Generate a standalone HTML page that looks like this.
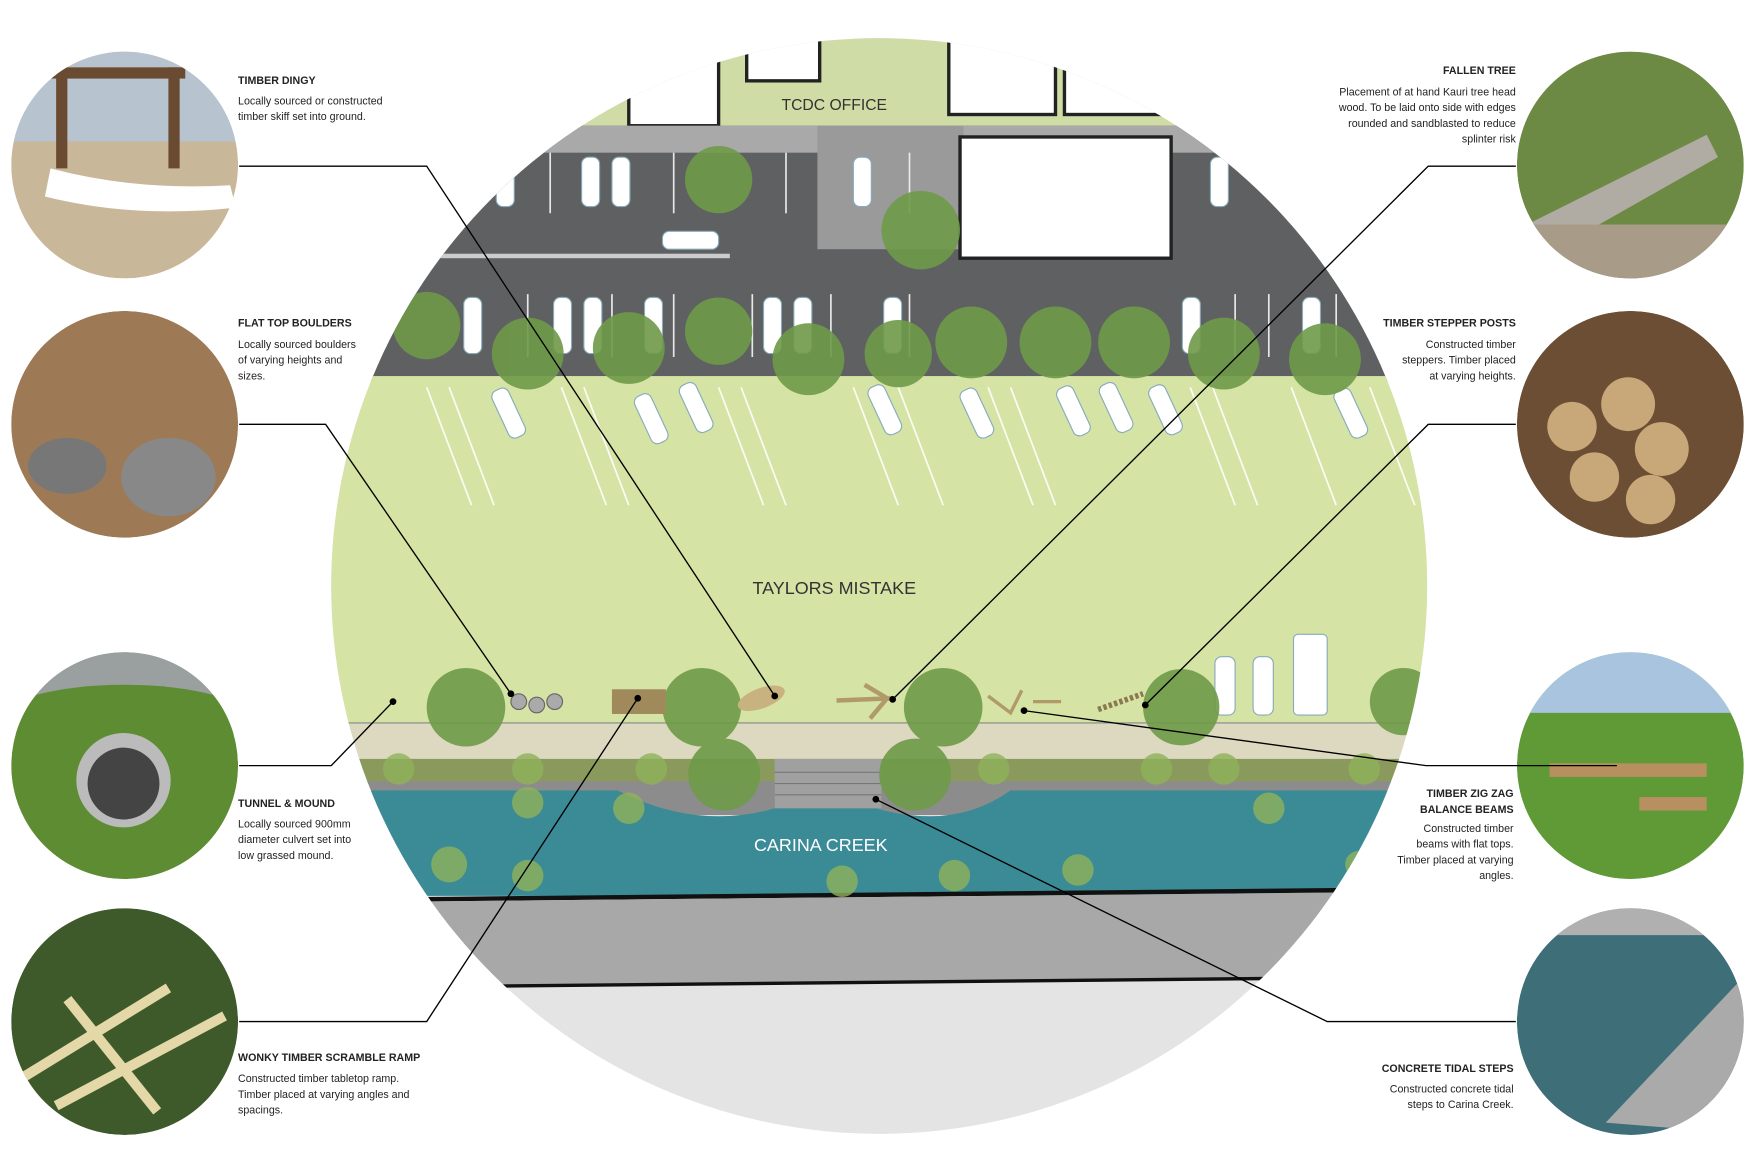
<!DOCTYPE html>
<html><head><meta charset="utf-8"><style>
html,body{margin:0;padding:0;background:#fff;}
svg{display:block;}
text{font-family:"Liberation Sans",sans-serif;}
</style></head><body>
<svg width="1755" height="1172" viewBox="0 0 1563 1044" preserveAspectRatio="none" xmlns="http://www.w3.org/2000/svg">
<defs>
<clipPath id="big"><circle cx="783" cy="522" r="488"/></clipPath>
<clipPath id="c1"><circle cx="111" cy="147" r="101"/></clipPath>
<clipPath id="c2"><circle cx="111" cy="378" r="101"/></clipPath>
<clipPath id="c3"><circle cx="111" cy="682" r="101"/></clipPath>
<clipPath id="c4"><circle cx="111" cy="910" r="101"/></clipPath>
<clipPath id="r1"><circle cx="1452" cy="147" r="101"/></clipPath>
<clipPath id="r2"><circle cx="1452" cy="378" r="101"/></clipPath>
<clipPath id="r3"><circle cx="1452" cy="682" r="101"/></clipPath>
<clipPath id="r4"><circle cx="1452" cy="910" r="101"/></clipPath>
</defs>
<rect width="1563" height="1044" fill="#fff"/>
<g clip-path="url(#big)">
  <rect x="280" y="20" width="1010" height="1010" fill="#e4e4e4"/>
  <rect x="280" y="20" width="1010" height="95" fill="#cfdca5"/>
  <rect x="560" y="30" width="80" height="82" fill="#fff" stroke="#222" stroke-width="3"/>
  <rect x="665" y="30" width="65" height="42" fill="#fff" stroke="#222" stroke-width="3"/>
  <rect x="845" y="30" width="95" height="72" fill="#fff" stroke="#222" stroke-width="3"/>
  <rect x="948" y="30" width="160" height="72" fill="#fff" stroke="#222" stroke-width="3"/>
  <text x="743" y="98" font-size="14" text-anchor="middle" fill="#333">TCDC OFFICE</text>
  <rect x="280" y="112" width="1010" height="228" fill="#5f6062"/>
  <rect x="280" y="112" width="1010" height="24" fill="#a9a9a9"/>
  <rect x="728" y="112" width="130" height="110" fill="#9a9a9a"/>
  <rect x="855" y="122" width="188" height="108" fill="#fff" stroke="#222" stroke-width="3"/>
  <rect x="380" y="226" width="270" height="4" fill="#ccc"/>
  <g stroke="#e8e8e8" stroke-width="1.5">
    <line x1="490" y1="136" x2="490" y2="190"/><line x1="600" y1="136" x2="600" y2="190"/><line x1="700" y1="136" x2="700" y2="190"/><line x1="810" y1="136" x2="810" y2="190"/>
    <line x1="470" y1="262" x2="470" y2="318"/><line x1="545" y1="262" x2="545" y2="318"/><line x1="600" y1="262" x2="600" y2="318"/><line x1="670" y1="262" x2="670" y2="318"/><line x1="740" y1="262" x2="740" y2="318"/><line x1="810" y1="262" x2="810" y2="318"/><line x1="1100" y1="262" x2="1100" y2="318"/><line x1="1130" y1="262" x2="1130" y2="318"/><line x1="1190" y1="262" x2="1190" y2="318"/>
  </g>
  <g fill="#fff" stroke="#8ab" stroke-width="1">
    <rect x="442" y="140" width="16" height="44" rx="6"/><rect x="518" y="140" width="16" height="44" rx="6"/><rect x="545" y="140" width="16" height="44" rx="6"/><rect x="760" y="140" width="16" height="44" rx="6"/><rect x="1078" y="140" width="16" height="44" rx="6"/>
    <rect x="590" y="206" width="50" height="16" rx="6"/>
    <rect x="413" y="265" width="16" height="50" rx="6"/><rect x="493" y="265" width="16" height="50" rx="6"/><rect x="520" y="265" width="16" height="50" rx="6"/><rect x="574" y="265" width="16" height="50" rx="6"/><rect x="680" y="265" width="16" height="50" rx="6"/><rect x="707" y="265" width="16" height="50" rx="6"/><rect x="787" y="265" width="16" height="50" rx="6"/><rect x="1053" y="265" width="16" height="50" rx="6"/><rect x="1160" y="265" width="16" height="50" rx="6"/>
  </g>
  <rect x="280" y="335" width="1010" height="310" fill="#d5e3a5"/>
  <g stroke="#fff" stroke-width="1.5" opacity="0.9">
    <line x1="380" y1="345" x2="420" y2="450"/><line x1="400" y1="345" x2="440" y2="450"/><line x1="500" y1="345" x2="540" y2="450"/><line x1="520" y1="345" x2="560" y2="450"/><line x1="640" y1="345" x2="680" y2="450"/><line x1="660" y1="345" x2="700" y2="450"/><line x1="760" y1="345" x2="800" y2="450"/><line x1="800" y1="345" x2="840" y2="450"/><line x1="880" y1="345" x2="920" y2="450"/><line x1="900" y1="345" x2="940" y2="450"/><line x1="1060" y1="345" x2="1100" y2="450"/><line x1="1080" y1="345" x2="1120" y2="450"/><line x1="1150" y1="345" x2="1190" y2="450"/><line x1="1220" y1="345" x2="1260" y2="450"/>
  </g>
  <g fill="#fff" stroke="#8ab" stroke-width="1">
    <rect x="445" y="345" width="16" height="46" rx="6" transform="rotate(-25 453 368)"/><rect x="572" y="350" width="16" height="46" rx="6" transform="rotate(-25 580 373)"/><rect x="612" y="340" width="16" height="46" rx="6" transform="rotate(-25 620 363)"/><rect x="780" y="342" width="16" height="46" rx="6" transform="rotate(-25 788 365)"/><rect x="862" y="345" width="16" height="46" rx="6" transform="rotate(-25 870 368)"/><rect x="948" y="343" width="16" height="46" rx="6" transform="rotate(-25 956 366)"/><rect x="986" y="340" width="16" height="46" rx="6" transform="rotate(-25 994 363)"/><rect x="1030" y="342" width="16" height="46" rx="6" transform="rotate(-25 1038 365)"/><rect x="1195" y="345" width="16" height="46" rx="6" transform="rotate(-25 1203 368)"/>
    <rect x="1082" y="585" width="18" height="52" rx="6"/><rect x="1116" y="585" width="18" height="52" rx="6"/><rect x="1152" y="565" width="30" height="72" rx="4"/>
  </g>
  <text x="743" y="529" font-size="16" text-anchor="middle" fill="#333">TAYLORS MISTAKE</text>
  <rect x="280" y="644" width="1010" height="32" fill="#dcd9c0"/>
  <line x1="280" y1="644" x2="1290" y2="644" stroke="#888" stroke-width="1"/>
  <rect x="280" y="676" width="1010" height="22" fill="#8a9a5c"/>
  <rect x="280" y="696" width="1010" height="30" fill="#8c8c8c"/>
  <path d="M280 704 L550 704 Q620 740 690 720 L780 720 Q850 740 900 704 L1290 704 L1290 798 L280 798 Z" fill="#3b8b97"/>
  <rect x="690" y="676" width="95" height="44" fill="#a0a0a0"/>
  <g stroke="#777" stroke-width="1"><line x1="690" y1="688" x2="785" y2="688"/><line x1="690" y1="698" x2="785" y2="698"/><line x1="690" y1="708" x2="785" y2="708"/></g>
  <text x="731" y="758" font-size="16" text-anchor="middle" fill="#fff">CARINA CREEK</text>
  <path d="M280 802 L1290 792" stroke="#111" stroke-width="4"/>
  <path d="M280 804 L1290 794 L1290 872 L280 880 Z" fill="#a8a8a8"/>
  <path d="M280 880 L1290 870" stroke="#111" stroke-width="3"/>
  <g fill="#6e9a48" opacity="0.9">
    <circle cx="640" cy="160" r="30"/><circle cx="820" cy="205" r="35"/>
    <circle cx="380" cy="290" r="30"/><circle cx="470" cy="315" r="32"/><circle cx="560" cy="310" r="32"/><circle cx="640" cy="295" r="30"/><circle cx="720" cy="320" r="32"/><circle cx="800" cy="315" r="30"/><circle cx="865" cy="305" r="32"/><circle cx="940" cy="305" r="32"/><circle cx="1010" cy="305" r="32"/><circle cx="1090" cy="315" r="32"/><circle cx="1180" cy="320" r="32"/>
    <circle cx="415" cy="630" r="35"/><circle cx="625" cy="630" r="35"/><circle cx="645" cy="690" r="32"/><circle cx="840" cy="630" r="35"/><circle cx="815" cy="690" r="32"/><circle cx="1052" cy="630" r="34"/><circle cx="1250" cy="625" r="30"/>
  </g>
  <g fill="#8fb25a" opacity="0.8">
    <circle cx="355" cy="685" r="14"/><circle cx="470" cy="685" r="14"/><circle cx="580" cy="685" r="14"/><circle cx="885" cy="685" r="14"/><circle cx="1030" cy="685" r="14"/><circle cx="1090" cy="685" r="14"/><circle cx="1215" cy="685" r="14"/>
    <circle cx="470" cy="715" r="14"/><circle cx="560" cy="720" r="14"/><circle cx="1130" cy="720" r="14"/><circle cx="400" cy="770" r="16"/><circle cx="470" cy="780" r="14"/><circle cx="750" cy="785" r="14"/><circle cx="850" cy="780" r="14"/><circle cx="960" cy="775" r="14"/><circle cx="1210" cy="770" r="12"/>
  </g>
  <rect x="545" y="614" width="48" height="22" fill="#a08a5c"/>
  <ellipse cx="678" cy="622" rx="22" ry="9" fill="#c8b280" transform="rotate(-20 678 622)"/>
  <g fill="#aaa" stroke="#666"><circle cx="462" cy="625" r="7"/><circle cx="478" cy="628" r="7"/><circle cx="494" cy="625" r="7"/></g>
  <path d="M745 624 L795 622 M770 610 L790 622 L775 640" stroke="#b09a6a" stroke-width="4" fill="none"/>
  <path d="M880 620 L900 635 L910 615 M920 625 L945 625" stroke="#b09a6a" stroke-width="3" fill="none"/>
  <path d="M978 632 L1018 618" stroke="#8a7850" stroke-width="5" stroke-dasharray="3 2"/>
</g>
<g clip-path="url(#c1)">
  <circle cx="111" cy="147" r="101" fill="#c9b79a"/>
  <rect x="10" y="46" width="202" height="80" fill="#b7c4cf"/>
  <rect x="50" y="60" width="10" height="90" fill="#6a4a30"/><rect x="150" y="60" width="10" height="90" fill="#6a4a30"/><rect x="45" y="60" width="120" height="10" fill="#6a4a30"/>
  <path d="M40 175 Q120 195 210 185 L205 165 Q120 170 45 150 Z" fill="#fff"/>
</g>
<g clip-path="url(#c2)">
  <circle cx="111" cy="378" r="101" fill="#9d7a55"/>
  <ellipse cx="60" cy="415" rx="35" ry="25" fill="#777"/><ellipse cx="150" cy="425" rx="42" ry="35" fill="#888"/>
</g>
<g clip-path="url(#c3)">
  <circle cx="111" cy="682" r="101" fill="#5e8c33"/>
  <rect x="10" y="580" width="202" height="40" fill="#9aa0a0"/>
  <ellipse cx="111" cy="640" rx="110" ry="30" fill="#5e8c33"/>
  <circle cx="110" cy="695" r="42" fill="#bbb"/><circle cx="110" cy="698" r="32" fill="#444"/>
</g>
<g clip-path="url(#c4)">
  <circle cx="111" cy="910" r="101" fill="#3e5a2a"/>
  <g stroke="#e4d8a8" stroke-width="9"><line x1="20" y1="960" x2="150" y2="880"/><line x1="50" y1="985" x2="200" y2="905"/><line x1="60" y1="890" x2="140" y2="990"/></g>
</g>
<g clip-path="url(#r1)">
  <circle cx="1452" cy="147" r="101" fill="#6c8a44"/>
  <path d="M1360 200 L1520 120 L1530 140 L1380 225 Z" fill="#b0aca4"/>
  <path d="M1350 200 L1553 200 L1553 250 L1350 250 Z" fill="#a89c88"/>
</g>
<g clip-path="url(#r2)">
  <circle cx="1452" cy="378" r="101" fill="#6b4e34"/>
  <g fill="#c8a878"><circle cx="1400" cy="380" r="22"/><circle cx="1450" cy="360" r="24"/><circle cx="1480" cy="400" r="24"/><circle cx="1420" cy="425" r="22"/><circle cx="1470" cy="445" r="22"/></g>
</g>
<g clip-path="url(#r3)">
  <circle cx="1452" cy="682" r="101" fill="#5f9a36"/>
  <rect x="1351" y="580" width="202" height="55" fill="#a8c4de"/>
  <rect x="1380" y="680" width="140" height="12" fill="#b89060"/>
  <rect x="1460" y="710" width="60" height="12" fill="#b89060"/>
</g>
<g clip-path="url(#r4)">
  <circle cx="1452" cy="910" r="101" fill="#3e6f78"/>
  <path d="M1430 1000 L1553 870 L1553 1010 Z" fill="#aaa"/>
  <rect x="1351" y="808" width="202" height="25" fill="#b0b0b0"/>
</g>
<g stroke="#000" stroke-width="1.2" fill="none">
  <polyline points="213,148 380,148 690,620"/>
  <polyline points="213,378 290,378 455,618"/>
  <polyline points="213,682 295,682 350,625"/>
  <polyline points="213,910 380,910 568,622"/>
  <polyline points="1350,148 1272,148 795,623"/>
  <polyline points="1350,378 1272,378 1020,628"/>
  <polyline points="1440,682 1270,682 912,633"/>
  <polyline points="1350,910 1182,910 780,712"/>
</g>
<g fill="#000"><circle cx="690" cy="620" r="3"/><circle cx="455" cy="618" r="3"/><circle cx="350" cy="625" r="3"/><circle cx="568" cy="622" r="3"/><circle cx="795" cy="623" r="3"/><circle cx="1020" cy="628" r="3"/><circle cx="912" cy="633" r="3"/><circle cx="780" cy="712" r="3"/></g>
<g font-size="9.5" fill="#222">
  <text x="212" y="75" font-weight="bold">TIMBER DINGY</text>
  <text x="212" y="93">Locally sourced or constructed</text><text x="212" y="107">timber skiff set into ground.</text>
  <text x="212" y="291" font-weight="bold">FLAT TOP BOULDERS</text>
  <text x="212" y="310">Locally sourced boulders</text><text x="212" y="324">of varying heights and</text><text x="212" y="338">sizes.</text>
  <text x="212" y="719" font-weight="bold">TUNNEL &amp; MOUND</text>
  <text x="212" y="737">Locally sourced 900mm</text><text x="212" y="751">diameter culvert set into</text><text x="212" y="765">low grassed mound.</text>
  <text x="212" y="945" font-weight="bold">WONKY TIMBER SCRAMBLE RAMP</text>
  <text x="212" y="964">Constructed timber tabletop ramp.</text><text x="212" y="978">Timber placed at varying angles and</text><text x="212" y="992">spacings.</text>
</g>
<g font-size="9.5" fill="#222" text-anchor="end">
  <text x="1350" y="66" font-weight="bold">FALLEN TREE</text>
  <text x="1350" y="85">Placement of at hand Kauri tree head</text><text x="1350" y="99">wood. To be laid onto side with edges</text><text x="1350" y="113">rounded and sandblasted to reduce</text><text x="1350" y="127">splinter risk</text>
  <text x="1350" y="291" font-weight="bold">TIMBER STEPPER POSTS</text>
  <text x="1350" y="310">Constructed timber</text><text x="1350" y="324">steppers. Timber placed</text><text x="1350" y="338">at varying heights.</text>
  <text x="1348" y="710" font-weight="bold">TIMBER ZIG ZAG</text><text x="1348" y="724" font-weight="bold">BALANCE BEAMS</text>
  <text x="1348" y="741">Constructed timber</text><text x="1348" y="755">beams with flat tops.</text><text x="1348" y="769">Timber placed at varying</text><text x="1348" y="783">angles.</text>
  <text x="1348" y="955" font-weight="bold">CONCRETE TIDAL STEPS</text>
  <text x="1348" y="973">Constructed concrete tidal</text><text x="1348" y="987">steps to Carina Creek.</text>
</g>
</svg>
</body></html>
